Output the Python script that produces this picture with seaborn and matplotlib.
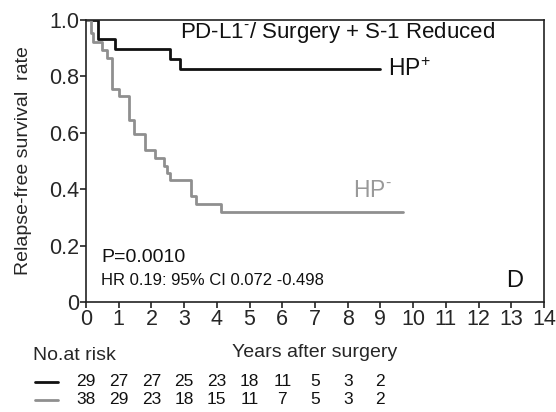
import numpy as np
import pandas as pd
import matplotlib
matplotlib.use("Agg")
import matplotlib.pyplot as plt
import matplotlib.transforms as mtransforms
from matplotlib.lines import Line2D
import seaborn as sns

# ---- data ----
hp_pos_time = [0.0, 0.38, 0.89, 2.57, 2.87, 9.0]
hp_pos_surv = [1.0, 0.931, 0.897, 0.861, 0.825, 0.825]
hp_neg_time = [0.0, 0.15, 0.22, 0.48, 0.64, 0.80, 1.00, 1.31, 1.48, 1.80,
               2.12, 2.39, 2.48, 2.56, 3.22, 3.37, 4.14, 9.68]
hp_neg_surv = [1.0, 0.953, 0.923, 0.895, 0.865, 0.755, 0.729, 0.647, 0.594, 0.538,
               0.511, 0.483, 0.458, 0.431, 0.377, 0.348, 0.320, 0.320]
risk_years = [0, 1, 2, 3, 4, 5, 6, 7, 8, 9]
risk_pos = [29, 27, 27, 25, 23, 18, 11, 5, 3, 2]
risk_neg = [38, 29, 23, 18, 15, 11, 7, 5, 3, 2]
x_ticks = list(range(0, 15))
y_ticks = [0, 0.2, 0.4, 0.6, 0.8, 1.0]
y_ticklabels = ["0", "0.2", "0.4", "0.6", "0.8", "1.0"]

df = pd.concat([
    pd.DataFrame({"time": hp_pos_time, "surv": hp_pos_surv, "group": "HP+"}),
    pd.DataFrame({"time": hp_neg_time, "surv": hp_neg_surv, "group": "HP-"}),
], ignore_index=True)

BLACK = "#111111"
GRAY = "#8f8f8f"

sns.set_style("ticks")
plt.rcParams["font.family"] = ["Liberation Sans", "DejaVu Sans"]
plt.rcParams["mathtext.fontset"] = "custom"
plt.rcParams["mathtext.rm"] = "Liberation Sans"
plt.rcParams["mathtext.it"] = "Liberation Sans"
plt.rcParams["mathtext.bf"] = "Liberation Sans:bold"

fig = plt.figure(figsize=(5.56, 4.12), dpi=100)
ax = fig.add_axes([86/556, 1 - 302/412, (544-86)/556, (302-20)/412])

sns.lineplot(data=df, x="time", y="surv", hue="group",
             palette={"HP+": BLACK, "HP-": GRAY}, drawstyle="steps-post",
             estimator=None, sort=False, legend=False, linewidth=2.0, ax=ax)

ax.set_xlim(0, 14)
ax.set_ylim(0, 1.0)
ax.set_xticks(x_ticks)
ax.set_xticklabels([str(t) for t in x_ticks], fontsize=15.5)
ax.set_yticks(y_ticks)
ax.set_yticklabels(y_ticklabels, fontsize=15.5)
ax.tick_params(axis="both", direction="out", length=4, width=1.2, color="#222222", pad=1)
for s in ax.spines.values():
    s.set_visible(True)
    s.set_color("#222222")
    s.set_linewidth(1.2)

ax.set_xlabel("Years after surgery", fontsize=14, labelpad=10)
ax.set_ylabel("Relapse-free survival  rate", fontsize=14, labelpad=12)

ax.text(2.87, 0.954, r"PD-L1$^{\text{-}}$/ Surgery + S-1 Reduced", fontsize=16,
        ha="left", va="center", color="#111111")
ax.text(9.24, 0.823, r"HP$^{\text{+}}$", fontsize=16.5, ha="left", va="center", color="#111111")
ax.text(8.17, 0.397, r"HP$^{\text{-}}$", fontsize=16.5, ha="left", va="center", color="#999999")
ax.text(0.46, 0.158, "P=0.0010", fontsize=14, ha="left", va="center", color="#111111")
ax.text(0.46, 0.078, "HR 0.19: 95% CI 0.072 -0.498", fontsize=12, ha="left",
        va="center", color="#111111")
ax.text(12.85, 0.073, "D", fontsize=17, ha="left", va="center", color="#111111")

# ---- number at risk table ----
trans = mtransforms.blended_transform_factory(ax.transData, fig.transFigure)
fig.text(33/556, 1 - 355/412, "No.at risk", fontsize=14, ha="left", va="center")
for vals, col, ypx in [(risk_pos, BLACK, 381.5), (risk_neg, GRAY, 399.5)]:
    yf = 1 - ypx/412
    fig.add_artist(Line2D([35/556, 58/556], [yf, yf], color=col, lw=2.0,
                          transform=fig.transFigure))
    for t, v in zip(risk_years, vals):
        ax.text(t, yf, str(v), transform=trans, fontsize=12.5, ha="center",
                va="center", color="#111111", clip_on=False)

fig.savefig("out.png", dpi=100)
